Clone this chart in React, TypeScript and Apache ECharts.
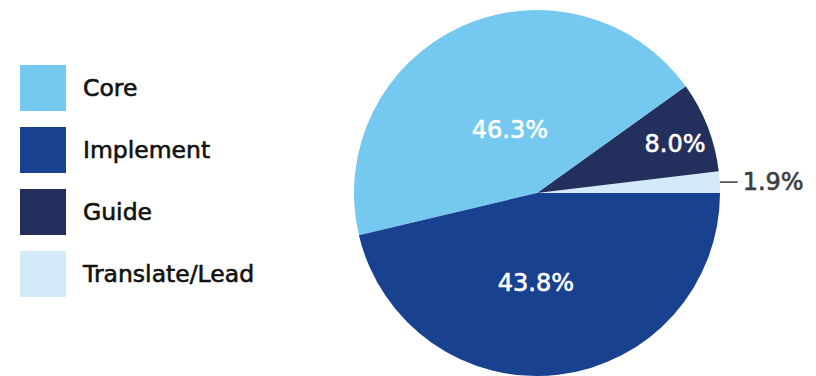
import React, { useEffect, useRef } from "react";
import * as echarts from "echarts";

// Legend order
const categories = ["Core", "Implement", "Guide", "Translate/Lead"];
// Slice sizes as drawn in the picture (percent of the circle)
const shares = [43.8, 46.3, 8.0, 1.9];
// Percent labels as printed on the slices
const printedLabels = ["46.3%", "43.8%", "8.0%", "1.9%"];

// Styles (kept apart from the data)
const colors = ["#75C9F0", "#18418F", "#232F5C", "#D3EAF9"];
const drawOrder = [3, 2, 0, 1]; // counter-clockwise from 3 o'clock
const labelShift: Record<string, [number, number]> = {
  Core: [12, 23],
  Implement: [-12, -4],
  Guide: [50, -15],
  "Translate/Lead": [0, 0],
};

export default function App() {
  const ref = useRef<HTMLDivElement>(null);

  useEffect(() => {
    document.body.style.margin = "0";
    if (!ref.current) return;
    const chart = echarts.init(ref.current, undefined, { renderer: "svg" });

    const data = drawOrder.map((i) => {
      const isOutside = categories[i] === "Translate/Lead";
      return {
        name: categories[i],
        value: shares[i],
        itemStyle: { color: colors[i] },
        label: isOutside
          ? {
              position: "outside",
              color: "#3c3c3c",
              textBorderColor: "#3c3c3c",
              textBorderWidth: 0.6,
              formatter: () => printedLabels[i],
            }
          : {
              position: "inside",
              color: "#ffffff",
              textBorderColor: "#ffffff",
              textBorderWidth: 0.6,
              formatter: () => printedLabels[i],
            },
        labelLine: isOutside
          ? {
              show: true,
              length: 0,
              length2: 18,
              lineStyle: { color: "#3c3c3c", width: 1.5 },
            }
          : { show: false },
      };
    });

    chart.setOption({
      animation: false,
      legend: {
        orient: "vertical",
        left: 20,
        top: 65,
        padding: 0,
        itemWidth: 46,
        itemHeight: 46,
        itemGap: 16,
        icon: "rect",
        data: categories,
        selectedMode: false,
        textStyle: {
          fontFamily: "DejaVu Sans",
          fontSize: 23.5,
          color: "#111111",
          textBorderColor: "#111111",
          textBorderWidth: 0.6,
          padding: [4, 0, 0, 12],
        },
      },
      series: [
        {
          type: "pie",
          center: [537, 193],
          radius: 183,
          startAngle: 0,
          clockwise: false,
          avoidLabelOverlap: false,
          silent: true,
          itemStyle: { borderWidth: 0 },
          emphasis: { disabled: true },
          label: {
            fontFamily: "DejaVu Sans",
            fontSize: 24,
          },
          labelLayout: (params: any) => {
            const idx = params.dataIndex;
            const name = categories[drawOrder[idx]];
            const s = labelShift[name] || [0, 0];
            if (name === "Translate/Lead") return {};
            return { dx: s[0], dy: s[1] };
          },
          data,
        },
      ],
    });

    return () => chart.dispose();
  }, []);

  return (
    <div
      ref={ref}
      style={{ position: "absolute", left: 0, top: 0, width: 816, height: 376 }}
    />
  );
}
